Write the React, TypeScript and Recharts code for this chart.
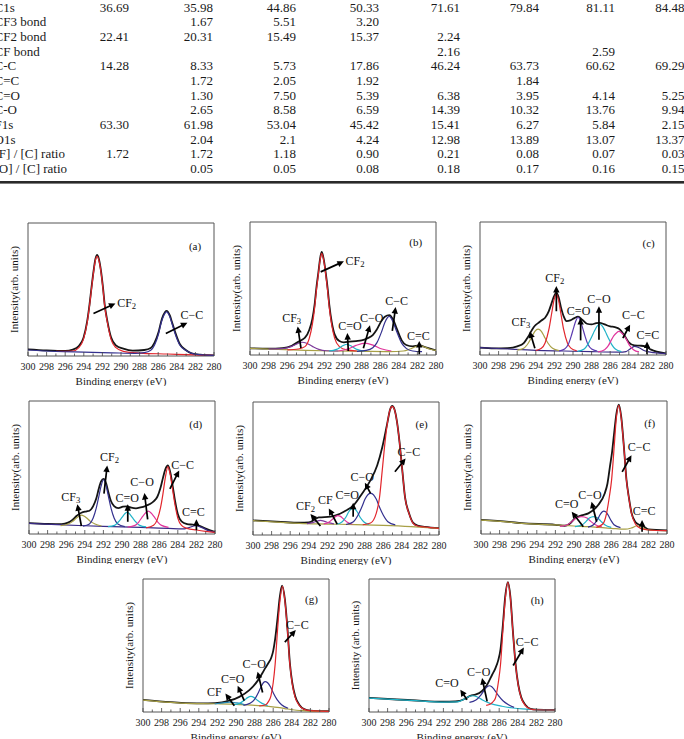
import React from 'react';
import { LineChart, Line, XAxis, YAxis, ReferenceArea, ReferenceLine, ReferenceDot } from 'recharts';

type Pt = [number, number];

const FONT = '"Liberation Serif", "Times New Roman", Times, serif';

// ---------------- Surface composition table ----------------
const tableRowLabels = [
  'C1s', 'CF3 bond', 'CF2 bond', 'CF bond', 'C-C', 'C=C', 'C=O', 'C-O', 'F1s', 'O1s',
  '[F] / [C] ratio', '[O] / [C] ratio',
];
const rowC1s = ['36.69', '35.98', '44.86', '50.33', '71.61', '79.84', '81.11', '84.48'];
const rowCF3 = ['', '1.67', '5.51', '3.20', '', '', '', ''];
const rowCF2 = ['22.41', '20.31', '15.49', '15.37', '2.24', '', '', ''];
const rowCF = ['', '', '', '', '2.16', '', '2.59', ''];
const rowCC = ['14.28', '8.33', '5.73', '17.86', '46.24', '63.73', '60.62', '69.29'];
const rowCdC = ['', '1.72', '2.05', '1.92', '', '1.84', '', ''];
const rowCdO = ['', '1.30', '7.50', '5.39', '6.38', '3.95', '4.14', '5.25'];
const rowCO = ['', '2.65', '8.58', '6.59', '14.39', '10.32', '13.76', '9.94'];
const rowF1s = ['63.30', '61.98', '53.04', '45.42', '15.41', '6.27', '5.84', '2.15'];
const rowO1s = ['', '2.04', '2.1', '4.24', '12.98', '13.89', '13.07', '13.37'];
const rowFC = ['1.72', '1.72', '1.18', '0.90', '0.21', '0.08', '0.07', '0.03'];
const rowOC = ['', '0.05', '0.05', '0.08', '0.18', '0.17', '0.16', '0.15'];
const tableRows = [rowC1s, rowCF3, rowCF2, rowCF, rowCC, rowCdC, rowCdO, rowCO, rowF1s, rowO1s, rowFC, rowOC];

// ---------------- C1s spectra: [binding energy (eV), intensity] ----------------
const energyTicks = [300, 299, 298, 297, 296, 295, 294, 293, 292, 291, 290, 289, 288, 287, 286, 285, 284, 283, 282, 281, 280];

// (a)
const aEnvelope: Pt[] = [[300,5],[298,4.2],[296,3.8],[295.18,4.8],[294.54,7.5],[294.04,13.5],[293.64,26],[293.39,38.5],[293.18,51],[292.96,63.5],[292.75,73],[292.57,76],[292.38,73],[292.14,63.5],[291.93,51],[291.75,38.5],[291.46,26],[291.07,14],[290.54,8],[289.75,5.5],[288.75,4],[287.5,4.5],[286.8,6],[286.39,10],[285.96,18],[285.68,26],[285.46,30.5],[285.1,34],[284.75,30.5],[284.54,26],[284.18,18],[283.68,9],[283.04,4.5],[282.4,2],[281.5,1],[280,0.5]];
const aCF2: Pt[] = [[297,3.5],[295.18,3.75],[294.54,6.25],[294.04,12.5],[293.64,25],[293.39,37.5],[293.18,50],[292.96,62.5],[292.75,72],[292.57,75],[292.38,72],[292.14,62.5],[291.93,50],[291.75,37.5],[291.46,25],[291.07,12.5],[290.54,6.25],[289.75,3.5],[288,2.2],[285,1.5],[282,0.8],[280,0.5]];
const aCC: Pt[] = [[300,4.5],[297,3.4],[294,2.9],[291,2.4],[288.5,2],[287.5,2.5],[286.8,4.25],[286.39,8.25],[285.96,16.75],[285.68,25],[285.46,29.5],[285.1,33.25],[284.75,29.5],[284.54,25],[284.18,16.75],[283.68,8.25],[283.04,4.25],[282.4,2],[281.5,1],[280,0.5]];

// (b)
const bEnvelope: Pt[] = [[300,5],[298,4.8],[296.5,5.2],[295.5,7],[294.9,9.5],[294.4,11.5],[294.09,13],[293.62,19],[293.3,27],[293.05,38],[292.87,50],[292.65,62],[292.45,73],[292.29,77.5],[292.1,73],[291.86,62],[291.65,50],[291.47,37.5],[291.22,25],[290.9,15.5],[290.39,10.5],[289.9,9.5],[289.3,10],[288.6,10.5],[288,11],[287.4,12.5],[286.8,15],[286.38,19],[285.84,26],[285.5,28.8],[285.02,30],[284.6,26.5],[284.23,20],[283.69,11],[283.2,7.5],[282.5,6.5],[281.8,7.2],[281,5.5],[280,3.5]];
const bBase: Pt[] = [[300,5],[297,4.2],[294,3.5],[291,3],[288,2.8],[285,2.6],[283.5,3],[282.8,4.5],[282.2,6.2],[281.8,7],[281.3,6.2],[280.7,4.5],[280,3.5]];
const bCF3: Pt[] = [[298,4.5],[296.5,4.8],[295.5,6.5],[294.9,8.5],[294.4,9.6],[293.9,8.8],[293.3,6.5],[292.6,4.2],[291.8,3.2],[290.5,3]];
const bCF2: Pt[] = [[296,3.8],[294.8,4.5],[294.09,6.3],[293.62,12.7],[293.3,22.8],[293.05,35.4],[292.87,48],[292.65,60.8],[292.45,72],[292.29,76.5],[292.1,72],[291.86,60.8],[291.65,48],[291.47,35.4],[291.22,22.8],[290.9,12.7],[290.39,6.3],[289.6,3.8],[288.5,3]];
const bCdO: Pt[] = [[291.5,3],[290.7,4.2],[290.2,6.2],[289.6,8.1],[289,6.2],[288.5,4.2],[287.7,3]];
const bCO: Pt[] = [[290.5,3],[289.5,4.5],[288.6,7.2],[287.63,8.9],[286.7,7.2],[285.8,4.5],[284.8,3]];
const bCC: Pt[] = [[288.5,2.8],[287.5,3.5],[286.8,5.5],[286.38,8.9],[285.84,17.7],[285.5,24.5],[285.02,29],[284.6,24.5],[284.23,17.7],[283.69,8.9],[283.2,5],[282.5,3],[281.5,2.5]];

// (c)
const cEnvelope: Pt[] = [[300,5.6],[298.5,5],[297,5.2],[296,6.5],[295.3,9],[294.8,14],[294.4,19],[294.1,22],[293.75,24],[293.4,26],[293,28],[292.6,33],[292.3,39],[292.05,44],[291.79,46.8],[291.55,43.5],[291.3,36],[291,29],[290.7,25.5],[290.3,26],[289.9,27.5],[289.46,28.8],[289,26.5],[288.5,23.5],[288,23],[287.5,24],[287.14,24.2],[286.6,23],[286,21.5],[285.5,21],[285,19.5],[284.5,15],[284,9.5],[283.4,7.2],[282.8,7],[282.2,6.5],[281.6,4],[281,2.5],[280,1.2]];
const cBase: Pt[] = [[300,5.6],[297,4.5],[294,3.5],[291,3],[288,2.5],[285,2.2],[284.3,2.6],[283.9,4.3],[283.4,6.5],[282.9,5.5],[282.3,3.2],[281.3,1.8],[280,1]];
const cCF3: Pt[] = [[296,3.6],[295.3,5],[294.8,9],[294.4,14],[294.1,17.8],[293.75,19.5],[293.4,17.8],[293.1,14],[292.7,9],[292.2,5],[291.5,3.3]];
const cCF2: Pt[] = [[294,3.4],[293.4,5],[293,9],[292.6,19],[292.3,31],[292.05,41],[291.79,46],[291.55,41],[291.3,31],[291,19],[290.6,9],[290.2,5],[289.6,3.2]];
const cCdO: Pt[] = [[291.5,3],[290.9,4.5],[290.5,8],[290.2,14],[289.95,20],[289.7,25.5],[289.46,28.4],[289.2,25.5],[288.95,20],[288.7,14],[288.4,8],[288,4.5],[287.4,3]];
const cCO: Pt[] = [[289.5,2.7],[288.8,4.5],[288.4,8],[288,13.5],[287.7,18],[287.4,21.7],[287.14,23.3],[286.85,21.7],[286.55,18],[286.25,13.5],[285.85,8],[285.45,4.5],[284.8,2.6]];
const cCC: Pt[] = [[287.3,2.4],[286.6,4],[286.2,7],[285.9,11],[285.6,14.5],[285.3,16.8],[285.07,17.7],[284.8,16.8],[284.5,14.5],[284.2,11],[283.9,7],[283.5,4],[282.9,2.3]];

// (d)
const dEnvelope: Pt[] = [[300,8.2],[298,7.6],[296.5,7.4],[295.8,8.5],[295.3,10.8],[294.9,13.5],[294.37,16],[293.8,17],[293.5,17.5],[293.1,21],[292.75,27],[292.5,34],[292.25,39.5],[291.98,41.5],[291.7,38],[291.45,31],[291.2,25],[290.85,21],[290.4,19.5],[289.9,20.5],[289.45,20.8],[289,19.8],[288.5,19.3],[288,20],[287.5,21],[287,22.5],[286.6,24.5],[286.2,28],[285.85,35],[285.6,42],[285.35,48.5],[285.06,51.5],[284.8,46],[284.55,36],[284.3,25],[284,15],[283.6,9.5],[283,7.5],[282.4,7],[281.8,6.5],[281,4],[280,1.5]];
const dBase: Pt[] = [[300,8],[297,7],[294,6.2],[291,5.6],[288,5],[285,4.2],[283.5,3.8],[282.8,4.8],[282.1,6.2],[281.4,4.8],[280.7,2.5],[280,1.2]];
const dCF3: Pt[] = [[296.6,6.3],[295.8,7.5],[295.3,9.5],[294.9,12],[294.6,13.6],[294.37,14.2],[294.1,13.6],[293.8,12],[293.4,9.5],[292.9,7.5],[292.2,6]];
const dCF2: Pt[] = [[294.2,5.9],[293.5,7.5],[293.1,12],[292.75,20],[292.5,28],[292.25,36],[291.98,40.8],[291.7,36],[291.45,28],[291.2,20],[290.85,12],[290.45,7.5],[289.7,5.6]];
const dCdO: Pt[] = [[291.5,5.5],[290.8,6.5],[290.4,9],[290,12.5],[289.7,15.2],[289.45,16.4],[289.2,15.2],[288.9,12.5],[288.5,9],[288.1,6.5],[287.4,5.3]];
const dCO: Pt[] = [[289.4,5.2],[288.6,6.5],[288.2,9],[287.8,13],[287.45,16],[287.17,17.2],[286.9,16],[286.55,13],[286.15,9],[285.75,6.5],[285,5]];
const dCC: Pt[] = [[287.4,4.6],[286.6,6.5],[286.2,11],[285.85,20],[285.6,30],[285.35,42],[285.06,50.7],[284.8,44],[284.55,33],[284.3,22],[284,12],[283.6,6.5],[283,4.2],[282,3],[281,2],[280,1.2]];

// (e)
const eEnvelope: Pt[] = [[300,11],[297,9.8],[295,9.2],[294,9.4],[292.93,13.25],[291.67,13.75],[290.23,17.5],[289.16,22.5],[288.26,31.25],[287.36,41.25],[286.64,52.5],[286.1,66],[285.57,83.75],[285.25,94.5],[285.03,97],[284.8,94.7],[284.52,85.2],[284.25,70.2],[283.95,49],[283.65,28.3],[283.23,16.5],[282.8,9.3],[282.3,7],[281.5,6.1],[280,5.1]];
const eBase: Pt[] = [[300,10.75],[297,9.5],[295,8.75],[292,8.25],[289,7.8],[286,7.2],[283,6.3],[280,5]];
const eCF2: Pt[] = [[294.2,8.5],[293.6,9.3],[293.2,10.3],[292.75,11],[292.3,10.3],[291.9,9.3],[291.3,8.4]];
const eCF: Pt[] = [[292.4,8.3],[291.8,9.8],[291.4,12.2],[291.1,14],[290.88,14.5],[290.6,14],[290.3,12.2],[289.9,9.8],[289.3,8.1]];
const eCdO: Pt[] = [[291,8.1],[290.4,10],[290,13.5],[289.7,17.5],[289.45,19.5],[289.26,20],[289.05,19.5],[288.8,17.5],[288.5,13.5],[288.1,10],[287.5,8]];
const eCO: Pt[] = [[290,7.9],[289.2,10],[288.7,15],[288.3,21],[287.95,27],[287.65,30.3],[287.36,31.25],[287.05,30.3],[286.75,27],[286.4,21],[286,15],[285.5,10],[284.7,7.6]];
const eCC: Pt[] = [[288.2,7.7],[287.36,9],[286.75,16.25],[286.4,28],[286.1,48.75],[285.8,70],[285.53,85],[285.25,94.5],[285.03,96.75],[284.8,94.5],[284.52,85],[284.25,70],[283.95,48.75],[283.65,28],[283.23,16.25],[282.8,9],[282.3,6.8],[281.5,6],[280,5]];

// (f)
const fEnvelope: Pt[] = [[300,10.6],[297,9.1],[295.6,8.1],[292,6.9],[291,6.2],[290.5,7.5],[289.9,11.75],[289.2,14],[288.46,15.5],[287.4,21.75],[286.7,30.5],[286.4,38],[286.14,50.5],[285.9,62],[285.68,76],[285.45,90],[285.18,97.25],[284.92,88],[284.64,66],[284.36,41],[284.1,27.5],[283.82,16],[283.4,9],[283,7],[282.6,6],[282,3.5],[280,2.7]];
const fBase: Pt[] = [[300,10.5],[297,9],[295.6,8],[292,6.8],[290,6],[288.4,5.5],[286,4.3],[284.5,3.6],[283.8,4.6],[283.2,6.2],[282.6,4.6],[282,3],[280,2.5]];
const fCdO: Pt[] = [[291.5,5.8],[290.7,7],[290.2,9.5],[289.75,12],[289.45,12.8],[289.18,13],[288.9,12.8],[288.6,12],[288.2,9.5],[287.7,7],[287,5.3]];
const fCOa: Pt[] = [[289.9,5.5],[289.1,7],[288.7,9.5],[288.35,12],[288.1,12.8],[287.93,13],[287.7,12.8],[287.45,12],[287.1,9.5],[286.7,7],[286,5]];
const fCOb: Pt[] = [[288.5,5.2],[287.9,7],[287.5,10.5],[287.2,14.5],[286.95,16.8],[286.79,17.25],[286.6,16.8],[286.35,14.5],[286.05,10.5],[285.7,7],[285,4.8]];
const fCC: Pt[] = [[287.6,5],[286.9,7.5],[286.5,15.5],[286.2,28],[285.96,40.5],[285.68,65.5],[285.45,87],[285.18,96.75],[284.92,87],[284.64,65.5],[284.36,40.5],[284.1,27],[283.82,15.5],[283.4,7.5],[282.8,4],[282,3],[280,2.5]];

// (g)
const gEnvelope: Pt[] = [[300,9.2],[297,7.4],[295.4,6.7],[293,6.5],[291.5,7.2],[290.71,8.5],[289.64,11.4],[288.57,16.4],[287.68,23.4],[287.14,29.5],[286.86,33],[286.5,37],[286.2,41],[286,46],[285.79,55],[285.54,70],[285.3,86],[285.05,95],[284.75,85],[284.46,62],[284.21,37],[283.95,22],[283.64,12],[283.2,5.5],[282.68,2.2],[282,1.1],[280,0.6]];
const gBase: Pt[] = [[300,9],[297,7.2],[295.4,6.5],[292,6.2],[290,5.8],[288,5],[286.5,4.3],[285.3,3.3],[284.5,2.3],[283.5,1.3],[282.5,0.9],[280,0.5]];
const gCF: Pt[] = [[292.3,6],[291.5,6.8],[290.7,7.5],[289.9,6.8],[289.1,5.6]];
const gCdO: Pt[] = [[290.2,5.5],[289.6,6.5],[289.1,8.8],[288.75,10.8],[288.4,11.7],[288.05,10.8],[287.7,8.8],[287.2,6.5],[286.6,4.8]];
const gCO: Pt[] = [[289.2,5],[288.5,6.5],[288,9.5],[287.6,14.5],[287.3,19],[287.06,22],[286.86,22.9],[286.6,22],[286.3,19],[286,14.5],[285.6,9.5],[285.1,5.5],[284.4,2.8]];
const gCC: Pt[] = [[287.5,4.5],[286.79,5.5],[286.5,8],[286.25,12],[286,22],[285.79,36],[285.54,60.9],[285.3,82],[285,94.5],[284.75,84],[284.46,60.9],[284.21,36],[283.95,21],[283.64,11],[283.2,5],[282.68,2],[282,1],[281,0.6],[280,0.5]];

// (h)
const hEnvelope: Pt[] = [[300,10.6],[297,9.4],[295.4,8.85],[292,7.7],[290.72,7.9],[289.64,10],[289.1,12.2],[288.56,13],[287.84,15.8],[287.3,20.5],[286.76,28],[286.4,33],[286.1,39],[285.86,47],[285.61,65],[285.35,87],[285.07,97.7],[284.8,87],[284.53,61],[284.24,36],[283.95,20.5],[283.63,11],[283.2,5.5],[282.63,2.4],[282,1.8],[280,1.6]];
const hBase: Pt[] = [[300,10.5],[297,9.3],[295.4,8.75],[292,7.5],[290.5,7.6],[289.8,9.5],[289.3,11.5],[288.9,12.2],[288.4,11.5],[287.8,9],[287,6.5],[285.7,4.3],[284.5,3],[283.5,2.3],[282,1.7],[280,1.5]];
const hCO: Pt[] = [[289.2,7.3],[288.5,9],[288,12.5],[287.6,16.5],[287.3,19],[287.05,19.75],[286.8,19],[286.5,16.5],[286.1,12.5],[285.6,8.5],[285,5.5],[284.4,3.5]];
const hCC: Pt[] = [[287.4,5],[286.94,6],[286.7,7.5],[286.4,10.5],[286.1,22],[285.86,35.5],[285.61,60.5],[285.35,85],[285.07,97.5],[284.8,86],[284.53,60.5],[284.24,35.5],[283.95,20],[283.63,10.5],[283.2,5],[282.63,2.2],[282,1.7],[280,1.5]];

// ---------------- Peak annotations (label position, arrow tail, arrow head) ----------------
type Note = { label: string; sub?: string; at: Pt; from?: Pt; to?: Pt; size?: number };

const aNotes: Note[] = [
  { label: 'CF', sub: '2', at: [289.39, 40], from: [292.96, 32], to: [290.6, 39.5] },
  { label: 'C\u2212C', at: [282.39, 30.5], from: [285.18, 17], to: [282.86, 25] },
  { label: '(a)', at: [282.04, 82.5], size: 11 },
];
const bNotes: Note[] = [
  { label: 'CF', sub: '2', at: [288.71, 70.9], from: [292.4, 62.5], to: [289.9, 70.4] },
  { label: 'CF', sub: '3', at: [295.52, 27.8], from: [294.52, 5.1], to: [294.87, 21.5] },
  { label: 'C=O', at: [289.25, 21.5], from: [289.43, 3], to: [289.53, 16.5] },
  { label: 'C\u2212O', at: [286.92, 27.8], from: [287.81, 5.1], to: [287.1, 22.3] },
  { label: 'C\u2212C', at: [284.23, 40.5], from: [284.7, 18.2], to: [284.34, 36] },
  { label: 'C=C', at: [281.9, 14.4], from: [281.8, 0.5], to: [281.8, 10.6] },
  { label: '(b)', at: [282.19, 84.8], size: 11 },
];
const cNotes: Note[] = [
  { label: 'CF', sub: '2', at: [291.96, 57.7], from: [291.79, 32.9], to: [291.79, 51.9] },
  { label: 'CF', sub: '3', at: [295.6, 24.6], from: [294.1, 5.1], to: [294.64, 17.7] },
  { label: 'C=O', at: [289.4, 33], from: [289.18, 11], to: [289.18, 27.8] },
  { label: 'C\u2212O', at: [287.21, 41.8], from: [287.21, 11.4], to: [287.21, 36.7] },
  { label: 'C\u2212C', at: [283.5, 30.4], from: [284.64, 12.7], to: [283.86, 22.8] },
  { label: 'C=C', at: [281.96, 15.2], from: [282.04, 0.5], to: [282.04, 10.1] },
  { label: '(c)', at: [281.86, 84], size: 11 },
];
const dNotes: Note[] = [
  { label: 'CF', sub: '2', at: [291.34, 58.2], from: [291.94, 30.3], to: [291.59, 51.5] },
  { label: 'CF', sub: '3', at: [295.51, 27.9], from: [294.37, 6], to: [294.8, 22.4] },
  { label: 'C=O', at: [289.45, 27.1], from: [289.38, 9.2], to: [289.38, 22.4] },
  { label: 'C\u2212O', at: [287.84, 39.1], from: [287.24, 11], to: [287.59, 30.8] },
  { label: 'C\u2212C', at: [283.49, 52], from: [284.85, 34], to: [283.85, 47.8] },
  { label: 'C=C', at: [282.32, 16.2], from: [282, 3], to: [282, 11] },
  { label: '(d)', at: [282.07, 82.6], size: 11 },
];
const eNotes: Note[] = [
  { label: 'C\u2212C', at: [283.23, 62.5], from: [284.74, 47.5], to: [283.59, 57.5] },
  { label: 'C\u2212O', at: [288.26, 43.75], from: [287.36, 31.25], to: [287.97, 39.25] },
  { label: 'C=O', at: [289.87, 30], from: [289.23, 13.75], to: [289.23, 24.25] },
  { label: 'CF', at: [292.21, 26.25], from: [290.95, 8.25], to: [291.85, 20] },
  { label: 'CF', sub: '2', at: [294.36, 21.75], from: [292.75, 6.75], to: [293.82, 15.75] },
  { label: '(e)', at: [281.87, 83.75], size: 11 },
];
const fNotes: Note[] = [
  { label: 'C\u2212C', at: [283.0, 65.5], from: [284.82, 46.75], to: [283.82, 59.25] },
  { label: 'C\u2212O', at: [288.29, 29.25], from: [287.57, 9.25], to: [288.11, 24.25] },
  { label: 'C=O', at: [290.79, 22.5], from: [289.0, 5.5], to: [290.25, 16.75] },
  { label: 'C=C', at: [282.46, 17.25], from: [282.68, 1.75], to: [282.68, 10.5] },
  { label: '(f)', at: [281.86, 83.5], size: 11 },
];
const gNotes: Note[] = [
  { label: 'C\u2212C', at: [283.39, 65.4], from: [284.75, 52.5], to: [283.57, 61.7] },
  { label: 'C\u2212O', at: [288.04, 35.8], from: [287.14, 14.7], to: [287.68, 30.3] },
  { label: 'C=O', at: [290.36, 25.1], from: [289.11, 8.5], to: [289.82, 19.7] },
  { label: 'CF', at: [292.32, 15.4], from: [290.18, 4.7], to: [291.14, 13.9] },
  { label: '(g)', at: [281.89, 84.6], size: 11 },
];
const hNotes: Note[] = [
  { label: 'C\u2212C', at: [282.99, 53], from: [284.5, 35], to: [283.35, 48.5] },
  { label: 'C\u2212O', at: [288.2, 30], from: [287.3, 8], to: [287.84, 25.5] },
  { label: 'C=O', at: [291.62, 21.75], from: [289.46, 9.25], to: [290.18, 16.75] },
  { label: '(h)', at: [281.91, 84.25], size: 11 },
];

// ---------------- Styling ----------------
const INK = '#151515';
const RED = '#e2262c';
const NAVY = '#34318f';
const PURPLE = '#7d3a9a';
const CYAN = '#20b3c8';
const MAGENTA = '#e0359c';
const OLIVE = '#a8a046';
const VIOLET = '#5b3aaf';
const INDIGO = '#3a2b86';
const TEAL = '#2789b5';

const ENV_W = 1.8;
const COMP_W = 1.2;

type Series = { pts: Pt[]; color: string; w: number };
type Spec = { key: string; left: number; top: number; yTitle: string; series: Series[]; notes: Note[] };

const env = (pts: Pt[]): Series => ({ pts, color: INK, w: ENV_W });
const comp = (pts: Pt[], color: string): Series => ({ pts, color, w: COMP_W });

const Y_TITLE = 'Intensity(arb. units)';

const spectra: Spec[] = [
  { key: 'a', left: 28, top: 223.3, yTitle: Y_TITLE, notes: aNotes,
    series: [env(aEnvelope), comp(aCF2, RED), comp(aCC, NAVY)] },
  { key: 'b', left: 250, top: 221.7, yTitle: Y_TITLE, notes: bNotes,
    series: [env(bEnvelope), comp(bBase, OLIVE), comp(bCF3, PURPLE), comp(bCF2, RED), comp(bCdO, CYAN), comp(bCO, MAGENTA), comp(bCC, NAVY)] },
  { key: 'c', left: 480, top: 221.7, yTitle: Y_TITLE, notes: cNotes,
    series: [env(cEnvelope), comp(cBase, INDIGO), comp(cCF3, OLIVE), comp(cCF2, RED), comp(cCdO, VIOLET), comp(cCO, CYAN), comp(cCC, MAGENTA)] },
  { key: 'd', left: 29, top: 400.5, yTitle: Y_TITLE, notes: dNotes,
    series: [env(dEnvelope), comp(dBase, INDIGO), comp(dCF3, OLIVE), comp(dCF2, NAVY), comp(dCdO, CYAN), comp(dCO, MAGENTA), comp(dCC, RED)] },
  { key: 'e', left: 252.5, top: 401.7, yTitle: Y_TITLE, notes: eNotes,
    series: [env(eEnvelope), comp(eBase, OLIVE), comp(eCF2, PURPLE), comp(eCF, MAGENTA), comp(eCdO, CYAN), comp(eCO, NAVY), comp(eCC, RED)] },
  { key: 'f', left: 481, top: 400.7, yTitle: Y_TITLE, notes: fNotes,
    series: [env(fEnvelope), comp(fBase, OLIVE), comp(fCdO, MAGENTA), comp(fCOa, CYAN), comp(fCOb, NAVY), comp(fCC, RED)] },
  { key: 'g', left: 143.3, top: 579, yTitle: Y_TITLE, notes: gNotes,
    series: [env(gEnvelope), comp(gBase, OLIVE), comp(gCF, TEAL), comp(gCdO, CYAN), comp(gCO, NAVY), comp(gCC, RED)] },
  { key: 'h', left: 368.7, top: 579, yTitle: 'Intensity (arb. units)', notes: hNotes,
    series: [env(hEnvelope), comp(hBase, CYAN), comp(hCO, NAVY), comp(hCC, RED)] },
];

// ---------------- Layout ----------------
const PLOT_W = 186;
const PLOT_H = 133;
const PAD_L = 28;
const PAD_T = 5;
const PAD_R = 12;
const AXIS_H = 30;
const TICK_GAP = 6.5;

const TABLE_COL_RIGHT = [129, 213, 296, 379, 460, 539, 615, 684.5];
const TABLE_ROW_STEP = 14.67;
const TABLE_FIRST_BASELINE = 11.5;

const toRows = (pts: Pt[]) => pts.map(([e, v]) => ({ e, v }));

function EnergyTick(props: any) {
  const { x, y, payload } = props;
  const value = payload?.value as number;
  const major = value % 2 === 0;
  const base = y - TICK_GAP;
  return (
    <g>
      <line x1={x} x2={x} y1={base} y2={base - (major ? 4 : 2.5)} stroke="#444" strokeWidth={0.8} />
      {major && (
        <text x={x} y={y} dy="0.71em" textAnchor="middle" fontSize={10} fontFamily={FONT} fill="#1a1a1a">
          {value}
        </text>
      )}
    </g>
  );
}

function Arrow(props: any) {
  const { x1, y1, x2, y2 } = props;
  const dx = x2 - x1;
  const dy = y2 - y1;
  const len = Math.hypot(dx, dy) || 1;
  const ux = dx / len;
  const uy = dy / len;
  const hl = 6.5;
  const hw = 3.2;
  const bx = x2 - ux * hl;
  const by = y2 - uy * hl;
  return (
    <g>
      <line x1={x1} y1={y1} x2={bx + ux} y2={by + uy} stroke="#000" strokeWidth={1.7} />
      <polygon
        points={`${x2},${y2} ${bx - uy * hw},${by + ux * hw} ${bx + uy * hw},${by - ux * hw}`}
        fill="#000"
      />
    </g>
  );
}

function NoteText({ cx, cy, note }: { cx: number; cy: number; note: Note }) {
  const size = note.size ?? 12;
  return (
    <text x={cx} y={cy} textAnchor="middle" dominantBaseline="central" fontFamily={FONT} fontSize={size} fill="#111">
      {note.label}
      {note.sub && (
        <tspan dy={3} fontSize={size * 0.72}>
          {note.sub}
        </tspan>
      )}
    </text>
  );
}

function Spectrum({ spec }: { spec: Spec }) {
  return (
    <div style={{ position: 'absolute', left: spec.left - PAD_L, top: spec.top - PAD_T }}>
      <LineChart
        width={PAD_L + PLOT_W + PAD_R}
        height={PAD_T + PLOT_H + AXIS_H}
        margin={{ top: PAD_T, right: PAD_R, bottom: 0, left: 0 }}
      >
        <XAxis
          dataKey="e"
          type="number"
          domain={[280, 300]}
          reversed
          allowDataOverflow
          ticks={energyTicks}
          interval={0}
          tickLine={false}
          axisLine={false}
          tickSize={0}
          tickMargin={TICK_GAP}
          height={AXIS_H}
          tick={(p: any) => <EnergyTick {...p} />}
          label={{ value: 'Binding energy (eV)', position: 'insideBottom', offset: 1.5, fontSize: 11, fontFamily: FONT, fill: '#1a1a1a' }}
        />
        <YAxis
          type="number"
          domain={[0, 100]}
          allowDataOverflow
          width={PAD_L}
          tick={false}
          tickLine={false}
          axisLine={false}
          label={{
            value: spec.yTitle,
            angle: -90,
            position: 'insideLeft',
            offset: 14.5,
            fontSize: 11,
            fontFamily: FONT,
            fill: '#1a1a1a',
            style: { textAnchor: 'middle' },
          }}
        />
        <ReferenceArea x1={300} x2={280} y1={0} y2={100} fill="none" stroke="#555" strokeWidth={1} ifOverflow="visible" />
        {spec.series.map((s, i) => (
          <Line
            key={`${spec.key}-s${i}`}
            data={toRows(s.pts)}
            dataKey="v"
            type="monotone"
            stroke={s.color}
            strokeWidth={s.w}
            dot={false}
            activeDot={false}
            isAnimationActive={false}
          />
        ))}
        {spec.notes
          .filter((n) => n.from && n.to)
          .map((n, i) => (
            <ReferenceLine
              key={`${spec.key}-a${i}`}
              segment={[
                { x: n.from![0], y: n.from![1] },
                { x: n.to![0], y: n.to![1] },
              ]}
              ifOverflow="visible"
              shape={(p: any) => <Arrow {...p} />}
            />
          ))}
        {spec.notes.map((n, i) => (
          <ReferenceDot
            key={`${spec.key}-t${i}`}
            x={n.at[0]}
            y={n.at[1]}
            r={0}
            ifOverflow="visible"
            shape={(p: any) => <NoteText cx={p.cx} cy={p.cy} note={n} />}
          />
        ))}
      </LineChart>
    </div>
  );
}

function CompositionTable() {
  return (
    <svg width={684} height={190} style={{ position: 'absolute', left: 0, top: 0 }}>
      {tableRowLabels.map((label, i) => (
        <text
          key={`l${i}`}
          x={-5.5}
          y={TABLE_FIRST_BASELINE + TABLE_ROW_STEP * i}
          fontFamily={FONT}
          fontSize={13}
          fill="#1a1a1a"
        >
          {label}
        </text>
      ))}
      {tableRows.map((row, i) =>
        row.map((val, j) =>
          val ? (
            <text
              key={`v${i}-${j}`}
              x={TABLE_COL_RIGHT[j]}
              y={TABLE_FIRST_BASELINE + TABLE_ROW_STEP * i}
              textAnchor="end"
              fontFamily={FONT}
              fontSize={13}
              fill="#1a1a1a"
            >
              {val}
            </text>
          ) : null,
        ),
      )}
      <rect x={0} y={181} width={684} height={2.6} fill="#2a2a2a" />
    </svg>
  );
}

export default function App() {
  return (
    <div
      style={{
        position: 'absolute',
        left: 0,
        top: 0,
        width: 684,
        height: 739,
        overflow: 'hidden',
        background: '#fff',
        fontFamily: FONT,
      }}
    >
      <CompositionTable />
      {spectra.map((s) => (
        <Spectrum key={s.key} spec={s} />
      ))}
    </div>
  );
}
